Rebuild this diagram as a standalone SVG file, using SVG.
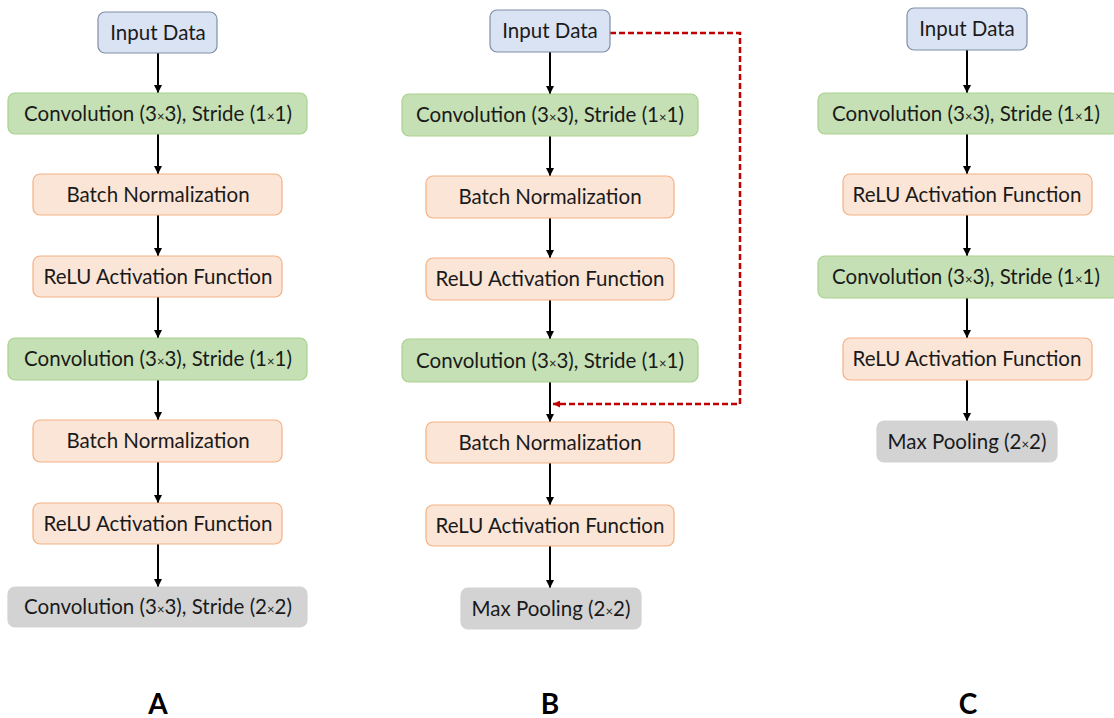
<svg xmlns="http://www.w3.org/2000/svg" width="1114" height="718" viewBox="0 0 1114 718">
<defs>
<style>
.t{font-family:Lato,"Open Sans","Liberation Sans",sans-serif;font-size:20.5px;fill:#1a1a1a;text-anchor:middle}
.x{font-size:13px}
.in{fill:#dae3f3;stroke:#7f8fa6;stroke-width:1.2}
.cv{fill:#c5e0b4;stroke:#a9d18e;stroke-width:1.2}
.or{fill:#fbe5d6;stroke:#f4b183;stroke-width:1.2}
.gr{fill:#d3d3d3;stroke:#d3d3d3;stroke-width:1.2}
.ar{stroke:#000;stroke-width:2;fill:none;marker-end:url(#ah)}
.lb{font-family:Lato,"Open Sans","Liberation Sans",sans-serif;font-size:28px;font-weight:bold;fill:#000;text-anchor:middle}
</style>
<marker id="ah" viewBox="0 0 10 10" refX="10" refY="5" markerWidth="8" markerHeight="8" markerUnits="userSpaceOnUse" orient="auto"><path d="M0,0 L10,5 L0,10 z" fill="#000"/></marker>
<marker id="rh" viewBox="0 0 10 10" refX="10" refY="5" markerWidth="7" markerHeight="7" markerUnits="userSpaceOnUse" orient="auto"><path d="M0,0 L10,5 L0,10 z" fill="#c00000"/></marker>
</defs>
<g id="connectors">
<line class="ar" x1="158" y1="53" x2="158" y2="93"/>
<line class="ar" x1="158" y1="134" x2="158" y2="174"/>
<line class="ar" x1="158" y1="215" x2="158" y2="256"/>
<line class="ar" x1="158" y1="297" x2="158" y2="338"/>
<line class="ar" x1="158" y1="380" x2="158" y2="420"/>
<line class="ar" x1="158" y1="462" x2="158" y2="503"/>
<line class="ar" x1="158" y1="544" x2="158" y2="587"/>
<line class="ar" x1="550" y1="52" x2="550" y2="94"/>
<line class="ar" x1="550" y1="136" x2="550" y2="176"/>
<line class="ar" x1="550" y1="218" x2="550" y2="258"/>
<line class="ar" x1="550" y1="300" x2="550" y2="339"/>
<line class="ar" x1="550" y1="382" x2="550" y2="422"/>
<line class="ar" x1="550" y1="463" x2="550" y2="505"/>
<line class="ar" x1="550" y1="546" x2="550" y2="588"/>
<line class="ar" x1="967" y1="50" x2="967" y2="93"/>
<line class="ar" x1="967" y1="134" x2="967" y2="174"/>
<line class="ar" x1="967" y1="215" x2="967" y2="256"/>
<line class="ar" x1="967" y1="298" x2="967" y2="338"/>
<line class="ar" x1="967" y1="380" x2="967" y2="421"/>
<polyline points="610,33 740,33 740,404 553,404" fill="none" stroke="#c00000" stroke-width="2.5" stroke-dasharray="6,3" marker-end="url(#rh)"/>
</g>
<g id="A-input"><rect class="in" x="98" y="12" width="119" height="41" rx="7"/><text class="t" x="158" y="40">Input Data</text></g>
<g id="A-conv1"><rect class="cv" x="8" y="93" width="299" height="41" rx="7"/><text class="t" x="158" y="121">Convolution (3<tspan class="x">×</tspan>3), Stride (1<tspan class="x">×</tspan>1)</text></g>
<g id="A-bn1"><rect class="or" x="33" y="174" width="249" height="41" rx="7"/><text class="t" x="158" y="202">Batch Normalization</text></g>
<g id="A-relu1"><rect class="or" x="33" y="256" width="249" height="41" rx="7"/><text class="t" x="158" y="284">ReLU Activation Function</text></g>
<g id="A-conv2"><rect class="cv" x="8" y="338" width="299" height="42" rx="7"/><text class="t" x="158" y="366">Convolution (3<tspan class="x">×</tspan>3), Stride (1<tspan class="x">×</tspan>1)</text></g>
<g id="A-bn2"><rect class="or" x="33" y="420" width="249" height="42" rx="7"/><text class="t" x="158" y="448">Batch Normalization</text></g>
<g id="A-relu2"><rect class="or" x="33" y="503" width="249" height="41" rx="7"/><text class="t" x="158" y="531">ReLU Activation Function</text></g>
<g id="A-conv3"><rect class="gr" x="8" y="587" width="299" height="40" rx="7"/><text class="t" x="158" y="614">Convolution (3<tspan class="x">×</tspan>3), Stride (2<tspan class="x">×</tspan>2)</text></g>
<g id="B-input"><rect class="in" x="490" y="10" width="120" height="42" rx="7"/><text class="t" x="550" y="38">Input Data</text></g>
<g id="B-conv1"><rect class="cv" x="402" y="94" width="296" height="42" rx="7"/><text class="t" x="550" y="122">Convolution (3<tspan class="x">×</tspan>3), Stride (1<tspan class="x">×</tspan>1)</text></g>
<g id="B-bn1"><rect class="or" x="426" y="176" width="248" height="42" rx="7"/><text class="t" x="550" y="204">Batch Normalization</text></g>
<g id="B-relu1"><rect class="or" x="426" y="258" width="248" height="42" rx="7"/><text class="t" x="550" y="286">ReLU Activation Function</text></g>
<g id="B-conv2"><rect class="cv" x="402" y="339" width="296" height="43" rx="7"/><text class="t" x="550" y="368">Convolution (3<tspan class="x">×</tspan>3), Stride (1<tspan class="x">×</tspan>1)</text></g>
<g id="B-bn2"><rect class="or" x="426" y="422" width="248" height="41" rx="7"/><text class="t" x="550" y="450">Batch Normalization</text></g>
<g id="B-relu2"><rect class="or" x="426" y="505" width="248" height="41" rx="7"/><text class="t" x="550" y="533">ReLU Activation Function</text></g>
<g id="B-pool"><rect class="gr" x="461" y="588" width="180" height="41" rx="7"/><text class="t" x="551" y="616">Max Pooling (2<tspan class="x">×</tspan>2)</text></g>
<g id="C-input"><rect class="in" x="907" y="8" width="120" height="42" rx="7"/><text class="t" x="967" y="36">Input Data</text></g>
<g id="C-conv1"><rect class="cv" x="818" y="93" width="300" height="41" rx="7"/><text class="t" x="966" y="121">Convolution (3<tspan class="x">×</tspan>3), Stride (1<tspan class="x">×</tspan>1)</text></g>
<g id="C-relu1"><rect class="or" x="843" y="174" width="249" height="41" rx="7"/><text class="t" x="967" y="202">ReLU Activation Function</text></g>
<g id="C-conv2"><rect class="cv" x="818" y="256" width="300" height="42" rx="7"/><text class="t" x="966" y="284">Convolution (3<tspan class="x">×</tspan>3), Stride (1<tspan class="x">×</tspan>1)</text></g>
<g id="C-relu2"><rect class="or" x="843" y="338" width="249" height="42" rx="7"/><text class="t" x="967" y="366">ReLU Activation Function</text></g>
<g id="C-pool"><rect class="gr" x="877" y="421" width="180" height="41" rx="7"/><text class="t" x="967" y="449">Max Pooling (2<tspan class="x">×</tspan>2)</text></g>
<g id="labels">
<text class="lb" x="158" y="714">A</text>
<text class="lb" x="550" y="714">B</text>
<text class="lb" x="968" y="714">C</text>
</g>
</svg>
